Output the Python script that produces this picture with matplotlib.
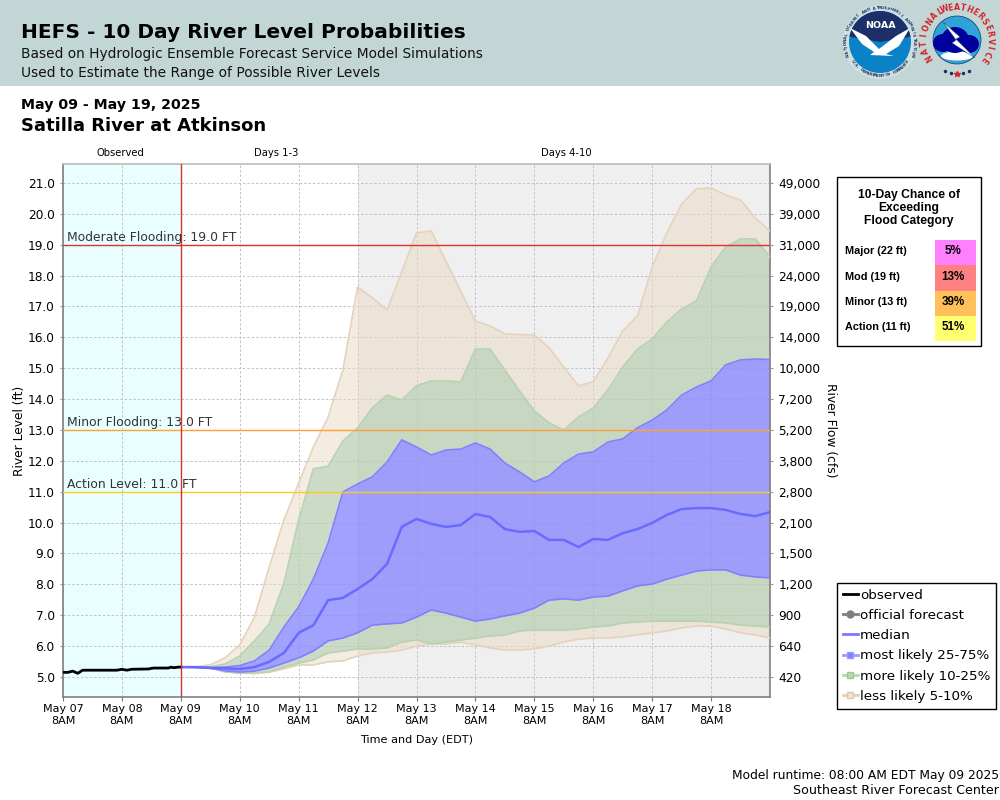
"""
HEFS 10 day river level probabilities for Satilla River at Atkinson.
"""

import matplotlib
matplotlib.use("Agg")
import matplotlib.patches as mpatches
import matplotlib.pyplot as plt
import numpy as np
import pandas as pd
from matplotlib.lines import Line2D

plt.rcParams["font.family"] = ["DejaVu Sans"]

# ------------------------------------------------------------------
# Data (river level in feet)
# ------------------------------------------------------------------
OBS_HOURS = [0, 2, 4, 6, 7, 8, 15, 22, 24, 26, 28, 35, 36, 37, 43, 44, 45, 47, 48]
OBS_LEVEL = [5.15, 5.15, 5.19, 5.12, 5.17, 5.22, 5.22, 5.22, 5.25, 5.22, 5.25,
             5.26, 5.28, 5.29, 5.29, 5.32, 5.30, 5.32, 5.32]

P95 = [5.32, 5.33, 5.39, 5.62, 6.04, 6.94, 8.56, 10.09, 11.28, 12.45, 13.42, 14.94,
       17.63, 17.28, 16.89, 18.12, 19.38, 19.45, 18.47, 17.50, 16.53, 16.37, 16.11,
       16.09, 16.08, 15.66, 15.04, 14.43, 14.56, 15.33, 16.21, 16.69, 18.28, 19.38,
       20.32, 20.81, 20.84, 20.61, 20.45, 19.87, 19.45]
P90 = [5.32, 5.32, 5.33, 5.42, 5.68, 6.17, 6.72, 8.04, 10.09, 11.74, 11.83, 12.64,
       13.07, 13.71, 14.13, 13.97, 14.43, 14.59, 14.59, 14.56, 15.62, 15.62, 14.94,
       14.26, 13.62, 13.23, 13.00, 13.42, 13.71, 14.30, 15.04, 15.62, 15.95, 16.50,
       16.92, 17.18, 18.28, 18.93, 19.19, 19.19, 18.60]
P75 = [5.32, 5.32, 5.31, 5.32, 5.37, 5.52, 5.87, 6.62, 7.27, 8.17, 9.34, 10.99,
       11.25, 11.48, 11.96, 12.68, 12.45, 12.19, 12.35, 12.38, 12.58, 12.38, 11.93,
       11.64, 11.32, 11.51, 11.93, 12.22, 12.29, 12.61, 12.71, 13.07, 13.32, 13.65,
       14.13, 14.39, 14.59, 15.11, 15.27, 15.30, 15.28]
MEDIAN = [5.32, 5.32, 5.29, 5.28, 5.26, 5.32, 5.49, 5.78, 6.43, 6.68, 7.49, 7.56,
          7.85, 8.17, 8.66, 9.86, 10.12, 9.96, 9.86, 9.92, 10.28, 10.18, 9.79,
          9.70, 9.73, 9.44, 9.44, 9.21, 9.47, 9.44, 9.66, 9.79, 9.99, 10.25,
          10.44, 10.47, 10.47, 10.41, 10.28, 10.21, 10.34]
P25 = [5.32, 5.31, 5.29, 5.20, 5.16, 5.19, 5.29, 5.45, 5.62, 5.84, 6.17, 6.26,
       6.43, 6.68, 6.72, 6.75, 6.94, 7.17, 7.07, 6.94, 6.81, 6.88, 6.98,
       7.07, 7.23, 7.49, 7.53, 7.49, 7.59, 7.62, 7.79, 7.95, 8.01, 8.17,
       8.30, 8.43, 8.47, 8.47, 8.30, 8.24, 8.21]
P10 = [5.32, 5.31, 5.29, 5.16, 5.13, 5.13, 5.16, 5.32, 5.45, 5.55, 5.78, 5.84,
       5.91, 5.91, 5.94, 6.13, 6.20, 6.07, 6.13, 6.20, 6.26, 6.33, 6.36,
       6.49, 6.52, 6.52, 6.52, 6.55, 6.62, 6.65, 6.75, 6.78, 6.81, 6.81,
       6.81, 6.81, 6.78, 6.75, 6.68, 6.65, 6.62]
P05 = [5.32, 5.31, 5.29, 5.19, 5.13, 5.11, 5.16, 5.26, 5.39, 5.39, 5.49, 5.52,
       5.68, 5.78, 5.81, 5.87, 6.00, 6.07, 6.07, 6.13, 6.04, 5.94, 5.87,
       5.87, 5.91, 6.00, 6.13, 6.23, 6.26, 6.26, 6.30, 6.36, 6.43, 6.49,
       6.59, 6.65, 6.65, 6.55, 6.43, 6.36, 6.26]

LEFT_TICKS = [5.0, 6.0, 7.0, 8.0, 9.0, 10.0, 11.0, 12.0, 13.0, 14.0, 15.0, 16.0,
              17.0, 18.0, 19.0, 20.0, 21.0]
FLOW_LABELS = ["420", "640", "900", "1,200", "1,500", "2,100", "2,800", "3,800",
               "5,200", "7,200", "10,000", "14,000", "19,000", "24,000", "31,000",
               "39,000", "49,000"]

FLOOD_LEVELS = [19.0, 13.0, 11.0]
FLOOD_NAMES = ["Moderate Flooding: 19.0 FT", "Minor Flooding: 13.0 FT", "Action Level: 11.0 FT"]
FLOOD_COLORS = ["#e03232", "#ffa033", "#ffc81e"]

CHANCE_NAMES = ["Major (22 ft)", "Mod (19 ft)", "Minor (13 ft)", "Action (11 ft)"]
CHANCE_PCT = ["5%", "13%", "39%", "51%"]
CHANCE_COLORS = ["#ff80ff", "#ff8080", "#ffc05a", "#ffff70"]

# ------------------------------------------------------------------
# Figure and overlay in pixel coordinates
# ------------------------------------------------------------------
fig = plt.figure(figsize=(10, 8), dpi=100, facecolor="white")

page = fig.add_axes([0, 0, 1, 1], zorder=0)
page.set_xlim(0, 1000)
page.set_ylim(800, 0)
page.axis("off")

page.add_patch(mpatches.Rectangle((0, 0), 1000, 86, color="#c2d7d5", lw=0))
page.text(21, 33, "HEFS - 10 Day River Level Probabilities", fontsize=14.5,
          fontweight="bold", va="center", ha="left")
page.text(21, 54, "Based on Hydrologic Ensemble Forecast Service Model Simulations",
          fontsize=9.9, va="center", ha="left", color="#111111")
page.text(21, 73, "Used to Estimate the Range of Possible River Levels",
          fontsize=9.9, va="center", ha="left", color="#111111")
page.text(21, 105, "May 09 - May 19, 2025", fontsize=10.15, fontweight="bold",
          va="center", ha="left")
page.text(21, 126, "Satilla River at Atkinson", fontsize=12.95, fontweight="bold",
          va="center", ha="left")
page.text(120, 153.5, "Observed", fontsize=7.2, va="center", ha="center")
page.text(276, 153.5, "Days 1-3", fontsize=7.2, va="center", ha="center")
page.text(566, 153.5, "Days 4-10", fontsize=7.2, va="center", ha="center")
page.text(417, 740, "Time and Day (EDT)", fontsize=8.1, va="center", ha="center")
page.text(999, 775, "Model runtime: 08:00 AM EDT May 09 2025", fontsize=8.85,
          va="center", ha="right")
page.text(999, 791, "Southeast River Forecast Center", fontsize=9.05,
          va="center", ha="right")


def ring_text(cx, cy, r, text, start, end, size, color, flip=False):
    # letters placed one by one around a circle, angles in degrees clockwise from top
    for ch, ang in zip(text, np.linspace(start, end, len(text))):
        a = np.radians(ang)
        rot = 180 - ang if flip else -ang
        page.text(cx + r * np.sin(a), cy - r * np.cos(a), ch, fontsize=size, color=color,
                  rotation=rot, ha="center", va="center", fontweight="bold")


# NOAA logo
page.add_patch(mpatches.Circle((880, 42), 37, fc="#cfe0e0", ec="none"))
page.add_patch(mpatches.Circle((880, 42), 31, fc="#0a82c8", ec="none"))
page.add_patch(mpatches.Wedge((880, 42), 31, 190, 350, fc="#1c2f68", ec="none"))
page.add_patch(mpatches.Polygon([[850, 28], [866, 36], [879, 49], [896, 36], [910, 28],
                                 [899, 46], [886, 54], [894, 56], [870, 55], [874, 52],
                                 [862, 44]], fc="white", ec="none"))
page.text(880, 25, "NOAA", fontsize=6.8, color="white", ha="center", va="center",
          fontweight="bold")
ring_text(880, 42, 34, "NATIONAL OCEANIC AND ATMOSPHERIC ADMINISTRATION", -112, 112, 2.7, "#1c2f68")
ring_text(880, 42, 34, "U.S. DEPARTMENT OF COMMERCE", 235, 125, 2.7, "#1c2f68", flip=True)

# NWS logo
page.add_patch(mpatches.Circle((957, 40), 24, fc="#2ea3d8", ec="#1c2f68", lw=0.5))
page.add_patch(mpatches.Ellipse((957, 56), 32, 9, fc="white", ec="none"))
for cx, cy, w, h in [(943, 43, 20, 18), (955, 40, 28, 26), (969, 44, 20, 18)]:
    page.add_patch(mpatches.Ellipse((cx, cy), w, h, fc="#00009c", ec="none"))
page.add_patch(mpatches.Polygon([[943, 22], [960, 37], [956, 39], [975, 58], [952, 43], [956, 40]],
                                fc="white", ec="#1c2f68", lw=0.3))
ring_text(957, 40, 33, "NATIONAL", -122, -30, 5.6, "#d8232a")
ring_text(957, 40, 33, "WEATHER", -22, 44, 5.6, "#d8232a")
ring_text(957, 40, 33, "SERVICE", 56, 126, 5.6, "#d8232a")
page.plot([945, 951, 963, 969], [71, 73, 73, 71], ls="none", marker="o", ms=1.5, color="#1c2f68")
page.plot([957], [74], ls="none", marker="*", ms=4, color="#d8232a")

# ------------------------------------------------------------------
# Main chart
# ------------------------------------------------------------------
ax = fig.add_axes([63 / 1000, 103 / 800, 707 / 1000, 533 / 800], zorder=1)

start = pd.Timestamp("2025-05-07 08:00")
now = pd.Timestamp("2025-05-09 08:00")
day4 = pd.Timestamp("2025-05-12 08:00")
end = pd.Timestamp("2025-05-19 08:00")
times = pd.date_range(now, periods=len(P95), freq="6h")
obs_times = [start + pd.Timedelta(hours=h) for h in OBS_HOURS]

ax.set_xlim(start, end)
ax.set_ylim(4.352, 21.615)
ax.axvspan(start, now, color="#e9ffff", lw=0, zorder=0)
ax.axvspan(day4, end, color="#efefef", lw=0, zorder=0)
ax.grid(True, color="#c2c2c2", linestyle=(0, (2.5, 2)), linewidth=0.7, zorder=1)
ax.set_axisbelow(True)

TAN, TAN_EDGE = "#ebdbc5", "#e6d2bc"
GREEN, GREEN_EDGE = "#b7cdaf", "#b8d2ad"
BLUE, BLUE_EDGE = "#8a8afe", "#8080ff"

ax.fill_between(times, P05, P10, color=TAN, alpha=0.5, lw=0, zorder=2)
ax.fill_between(times, P90, P95, color=TAN, alpha=0.5, lw=0, zorder=2)
ax.fill_between(times, P10, P25, color=GREEN, alpha=0.7, lw=0, zorder=2)
ax.fill_between(times, P75, P90, color=GREEN, alpha=0.7, lw=0, zorder=2)
ax.fill_between(times, P25, P75, color=BLUE, alpha=0.8, lw=0, zorder=2)
for series, edge in [(P05, TAN_EDGE), (P95, TAN_EDGE), (P10, GREEN_EDGE), (P90, GREEN_EDGE),
                     (P25, BLUE_EDGE), (P75, BLUE_EDGE)]:
    ax.plot(times, series, color=edge, lw=1.2, zorder=3)
ax.plot(times, MEDIAN, color="#6a6aff", lw=1.8, zorder=4)
ax.plot(obs_times, OBS_LEVEL, color="black", lw=2.0, zorder=5)

for level, name, color in zip(FLOOD_LEVELS, FLOOD_NAMES, FLOOD_COLORS):
    ax.axhline(level, color=color, lw=1.0, zorder=6)
    ax.text(start + pd.Timedelta(hours=1.5), level + 0.03, name, fontsize=8.9, color="#333333",
            va="bottom", ha="left", zorder=7)
ax.axvline(now, color="#d83030", lw=1.0, zorder=6)

day_ticks = pd.date_range(start, periods=12, freq="D")
ax.set_xticks(day_ticks)
ax.set_xticklabels([d.strftime("%b %d") + "\n8AM" for d in day_ticks], fontsize=8.0, linespacing=1.3)
ax.set_yticks(LEFT_TICKS)
ax.set_yticklabels([f"{v:.1f}" for v in LEFT_TICKS], fontsize=8.7)
ax.tick_params(axis="x", length=3, color="#777777", pad=2)
ax.tick_params(axis="y", length=2, color="#999999", pad=4)
ax.set_ylabel("River Level (ft)", fontsize=8.8, labelpad=1.5)
for name, spine in ax.spines.items():
    spine.set_color("#bbbbbb" if name == "top" else "#808080")
    spine.set_linewidth(1.2)

right = ax.twinx()
right.set_ylim(ax.get_ylim())
right.set_yticks(LEFT_TICKS)
right.set_yticklabels(FLOW_LABELS, fontsize=8.7)
right.tick_params(axis="y", length=2, color="#999999", pad=4)
right.set_ylabel("River Flow (cfs)", fontsize=8.8, rotation=270, labelpad=12)
for spine in right.spines.values():
    spine.set_visible(False)

# ------------------------------------------------------------------
# Chance of exceeding table
# ------------------------------------------------------------------
table = fig.add_axes([0, 0, 1, 1], zorder=2)
table.set_xlim(0, 1000)
table.set_ylim(800, 0)
table.axis("off")
table.add_patch(mpatches.Rectangle((837, 177), 143.5, 169, fc="white", ec="black", lw=1.0))
table.text(909, 208, "10-Day Chance of\nExceeding\nFlood Category", fontsize=8.75, fontweight="bold",
           family="Liberation Sans", ha="center", va="center", linespacing=1.1)
for i, (name, pct, color) in enumerate(zip(CHANCE_NAMES, CHANCE_PCT, CHANCE_COLORS)):
    y0 = 240 + i * 25.25
    table.add_patch(mpatches.Rectangle((935, y0), 41, 25.25, fc=color, ec="none"))
    table.text(845, y0 + 11.5, name, fontsize=7.8, fontweight="bold", family="Liberation Sans",
               ha="left", va="center")
    table.text(953, y0 + 11.5, pct, fontsize=8.4, fontweight="bold", family="Liberation Sans",
               ha="center", va="center")

# ------------------------------------------------------------------
# Legend
# ------------------------------------------------------------------
handles = [
    Line2D([], [], color="black", lw=2),
    Line2D([], [], color="#808080", lw=2, marker="o", ms=5),
    Line2D([], [], color="#7a7aff", lw=2),
    Line2D([], [], color="#9a9aff", lw=2, marker="s", ms=5, mfc="#8080ff", mec="#9a9aff"),
    Line2D([], [], color="#b8d8a8", lw=2, marker="s", ms=5, mfc="#b8d8a8", mec="#a0c890"),
    Line2D([], [], color="#e6d2bc", lw=2, marker="s", ms=5, mfc="#efe2d2", mec="#e0c8a8"),
]
labels = ["observed", "official forecast", "median", "most likely 25-75%",
          "more likely 10-25%", "less likely 5-10%"]
leg = table.legend(handles, labels, loc="upper left", bbox_to_anchor=(837 / 1000, 1 - 583 / 800),
                   bbox_transform=fig.transFigure, fontsize=9.7, frameon=True, fancybox=False,
                   edgecolor="black", framealpha=1, handlelength=1.15, handletextpad=0.15,
                   labelspacing=0.54, borderpad=0.42, borderaxespad=0)
leg.get_frame().set_linewidth(1.0)

fig.savefig("out.png", dpi=100, facecolor="white")
